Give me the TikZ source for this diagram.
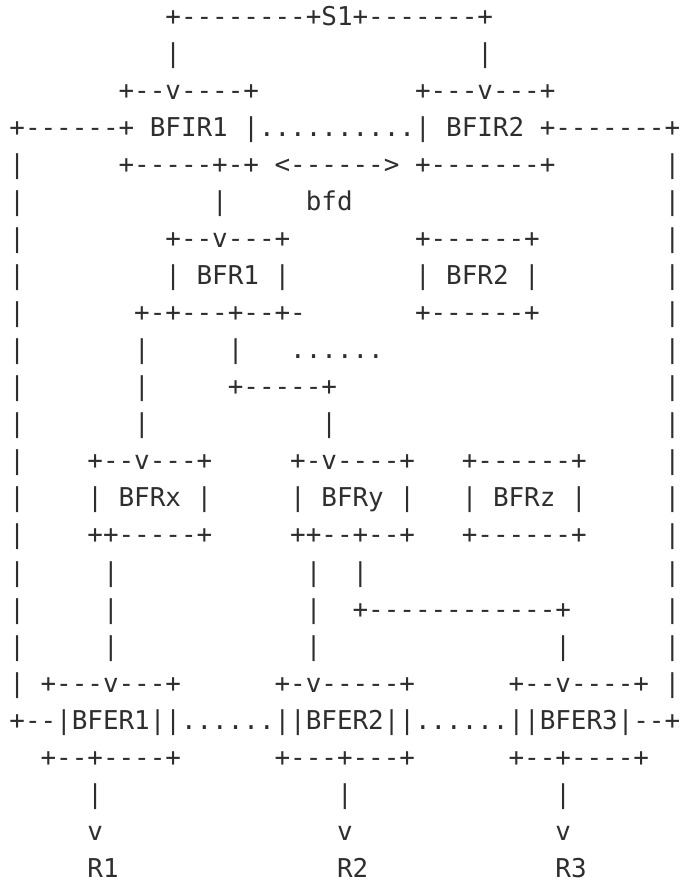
\documentclass[tikz,border=0pt]{standalone}
\usepackage{fontspec}
\setmonofont{DejaVu Sans Mono}
\usepackage{tikz}
\definecolor{ink}{HTML}{2E2E2E}
\newlength\cw
\AtBeginDocument{\settowidth{\cw}{\ttfamily x}}
\newcommand\gap[1]{\hspace*{#1\cw}}
\tikzset{row/.style={anchor=base west, inner sep=0pt, font=\ttfamily, text=ink}}

\begin{document}
\begin{tikzpicture}[y=-14.30pt]
		\useasboundingbox (-3.44pt,9.73pt) rectangle (259.4pt,-329.5pt);
		% S1 feeding both ingress routers
		\node[row] (l1) at (0,0) {\gap{10}+--------+S1+-------+};
		\node[row] (l2) at (0,1) {\gap{10}|\gap{19}|};
		\node[row] (l3) at (0,2) {\gap{7}+--v----+\gap{10}+---v---+};
		\node[row] (l4) at (0,3) {+------+ BFIR1 |..........| BFIR2 +-------+};
		\node[row] (l5) at (0,4) {|\gap{6}+-----+-+ <------> +-------+\gap{7}|};
		\node[row] (l6) at (0,5) {|\gap{12}|\gap{5}bfd\gap{20}|};
		% transit routers
		\node[row] (l7) at (0,6) {|\gap{9}+--v---+\gap{8}+------+\gap{8}|};
		\node[row] (l8) at (0,7) {|\gap{9}| BFR1 |\gap{8}| BFR2 |\gap{8}|};
		\node[row] (l9) at (0,8) {|\gap{7}+-+---+--+-\gap{7}+------+\gap{8}|};
		\node[row] (l10) at (0,9) {|\gap{7}|\gap{5}|\gap{3}......\gap{18}|};
		\node[row] (l11) at (0,10) {|\gap{7}|\gap{5}+-----+\gap{21}|};
		\node[row] (l12) at (0,11) {|\gap{7}|\gap{11}|\gap{21}|};
		\node[row] (l13) at (0,12) {|\gap{4}+--v---+\gap{5}+-v----+\gap{3}+------+\gap{5}|};
		\node[row] (l14) at (0,13) {|\gap{4}| BFRx |\gap{5}| BFRy |\gap{3}| BFRz |\gap{5}|};
		\node[row] (l15) at (0,14) {|\gap{4}++-----+\gap{5}++--+--+\gap{3}+------+\gap{5}|};
		\node[row] (l16) at (0,15) {|\gap{5}|\gap{12}|\gap{2}|\gap{19}|};
		\node[row] (l17) at (0,16) {|\gap{5}|\gap{12}|\gap{2}+------------+\gap{6}|};
		\node[row] (l18) at (0,17) {|\gap{5}|\gap{12}|\gap{15}|\gap{6}|};
		% egress routers and receivers
		\node[row] (l19) at (0,18) {| +---v---+\gap{6}+-v-----+\gap{6}+--v----+ |};
		\node[row] (l20) at (0,19) {+--|BFER1||......||BFER2||......||BFER3|--+};
		\node[row] (l21) at (0,20) {\gap{2}+--+----+\gap{6}+---+---+\gap{6}+--+----+};
		\node[row] (l22) at (0,21) {\gap{5}|\gap{15}|\gap{13}|};
		\node[row] (l23) at (0,22) {\gap{5}v\gap{15}v\gap{13}v};
		\node[row] (l24) at (0,23) {\gap{5}R1\gap{14}R2\gap{12}R3};
\end{tikzpicture}
\end{document}
